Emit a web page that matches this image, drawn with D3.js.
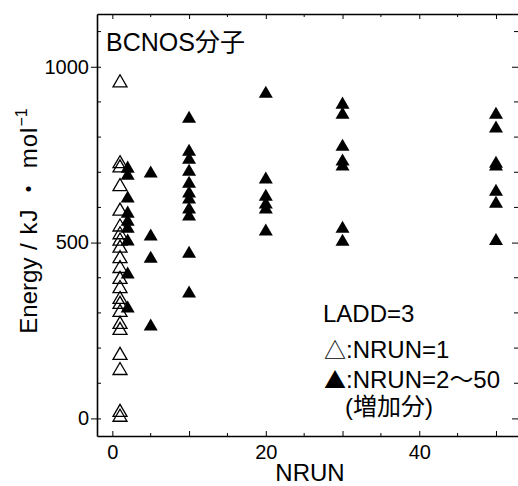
<!DOCTYPE html>
<html>
<head>
<meta charset="utf-8">
<script src="https://cdn.jsdelivr.net/npm/d3@7"></script>
<style>
  body { margin: 0; background: #fff; }
  svg text { font-family: "Liberation Sans", Arial, "Noto Sans CJK JP", sans-serif; fill: #000; }
  .cjk { font-family: "Noto Sans CJK JP", sans-serif; }
</style>
</head>
<body>
<svg id="chart"></svg>
<script>
// NRUN = 1 (open triangles)
const openRun = 1;
const openEnergy = [960, 730, 718, 665, 595, 550, 528, 510, 490, 460, 432, 401, 375, 344, 330, 307, 273, 256, 185, 142, 23, 9];

// NRUN = 2..50 (filled triangles, added structures)
const runs = [2, 5, 10, 20, 30, 50];
const energyRun2 = [716, 696, 631, 588, 565, 545, 509, 415, 318];
const energyRun5 = [702, 523, 460, 267];
const energyRun10 = [858, 764, 741, 707, 673, 645, 628, 600, 580, 474, 361];
const energyRun20 = [929, 685, 636, 614, 600, 537];
const energyRun30 = [898, 869, 778, 736, 722, 545, 508];
const energyRun50 = [869, 830, 730, 722, 650, 616, 510];
const filledEnergy = [energyRun2, energyRun5, energyRun10, energyRun20, energyRun30, energyRun50];

const xTickLabels = [0, 20, 40];
const yTickLabels = [0, 500, 1000];

const width = 518, height = 486;
const margin = {left: 97, right: -1, top: 14, bottom: 50};

const svg = d3.select("#chart").attr("width", width).attr("height", height);

const x = d3.scaleLinear().domain([-2, 53]).range([margin.left, width - margin.right]);
const y = d3.scaleLinear().domain([-50, 1150]).range([height - margin.bottom, margin.top]);

// triangle centred on its bounding box
const tri = {
  draw(ctx, size) {
    const w = Math.sqrt(size) , h = w * 0.86;
    ctx.moveTo(0, -h / 2);
    ctx.lineTo(w / 2, h / 2);
    ctx.lineTo(-w / 2, h / 2);
    ctx.closePath();
  }
};
const marker = d3.symbol().type(tri).size(196);

const openPts = openEnergy.map(e => ({n: openRun, e}));
const filledPts = [];
runs.forEach((n, i) => filledEnergy[i].forEach(e => filledPts.push({n, e})));

svg.append("g").selectAll("path").data(filledPts).join("path")
  .attr("d", marker)
  .attr("transform", d => `translate(${x(d.n)},${y(d.e)})`)
  .attr("fill", "#000");

svg.append("g").selectAll("path").data(openPts).join("path")
  .attr("d", marker)
  .attr("transform", d => `translate(${x(d.n)},${y(d.e)})`)
  .attr("fill", "none")
  .attr("stroke", "#000")
  .attr("stroke-width", 1.3);

// axes
const xMajor = d3.range(0, 51, 10), xMinor = d3.range(5, 51, 10);
const yMajor = yTickLabels, yMinor = d3.range(0, 1101, 100).filter(v => v % 500 !== 0);
const y0 = y.range()[0], y1 = y.range()[1], x0 = x.range()[0], x1 = x.range()[1];

const bottomAx = svg.append("g").attr("transform", `translate(0,${y0})`)
  .call(d3.axisBottom(x).tickValues(xMajor).tickSizeInner(-5).tickSizeOuter(0).tickFormat(d => xTickLabels.includes(d) ? d : ""));
bottomAx.append("g").selectAll("line").data(xMinor).join("line")
  .attr("x1", d => x(d)).attr("x2", d => x(d)).attr("y1", 0).attr("y2", -3).attr("stroke", "#000");

const topAx = svg.append("g").attr("transform", `translate(0,${y1})`)
  .call(d3.axisTop(x).tickValues(xMajor).tickSizeInner(-5).tickSizeOuter(0).tickFormat(""));
topAx.append("g").selectAll("line").data(xMinor).join("line")
  .attr("x1", d => x(d)).attr("x2", d => x(d)).attr("y1", 0).attr("y2", 3).attr("stroke", "#000");

const leftAx = svg.append("g").attr("transform", `translate(${x0},0)`)
  .call(d3.axisLeft(y).tickValues(yMajor).tickSizeInner(6).tickSizeOuter(0).tickFormat(d => String(d)));
leftAx.selectAll(".tick line").attr("x1", 4);
leftAx.append("g").selectAll("line").data(yMinor).join("line")
  .attr("y1", d => y(d)).attr("y2", d => y(d)).attr("x1", 0).attr("x2", 4).attr("stroke", "#000");

const rightAx = svg.append("g").attr("transform", `translate(${x1},0)`)
  .call(d3.axisRight(y).tickValues(yMajor).tickSizeInner(-7).tickSizeOuter(0).tickFormat(""));
rightAx.append("g").selectAll("line").data(yMinor).join("line")
  .attr("y1", d => y(d)).attr("y2", d => y(d)).attr("x1", 0).attr("x2", -5).attr("stroke", "#000");

svg.selectAll(".domain").attr("stroke-width", 1.6);
bottomAx.selectAll(".tick text").attr("font-size", 20).attr("dy", "1em");
leftAx.selectAll(".tick text").attr("font-size", 20).attr("x", -8);

// axis titles
svg.append("text").attr("x", (x0 + x1) / 2 + 2).attr("y", 481)
  .attr("text-anchor", "middle").attr("font-size", 24).text("NRUN");

const yt = svg.append("text").attr("transform", `translate(37,221) rotate(-90)`)
  .attr("text-anchor", "middle").attr("font-size", 24);
yt.append("tspan").text("Energy");
yt.append("tspan").attr("letter-spacing", 1).text(" / kJ ・ mol");
yt.append("tspan").attr("dy", -10).attr("font-size", 16).text("−1");

// annotations
svg.append("text").attr("x", 106).attr("y", 51).attr("font-size", 25).text("BCNOS分子");

const legend = [
  {m: "", t: "LADD=3", x: 323, y: 322},
  {m: "△", t: ":NRUN=1", x: 324, y: 358},
  {m: "▲", t: ":NRUN=2～50", x: 324, y: 388},
  {m: "", t: "(増加分)", x: 345, y: 415}
];
const lg = svg.append("g").selectAll("text").data(legend).join("text")
  .attr("x", d => d.x).attr("y", d => d.y).attr("font-size", 24);
lg.append("tspan").attr("class", "cjk").attr("font-size", 22).text(d => d.m);
lg.append("tspan").text(d => d.t);
</script>
</body>
</html>
